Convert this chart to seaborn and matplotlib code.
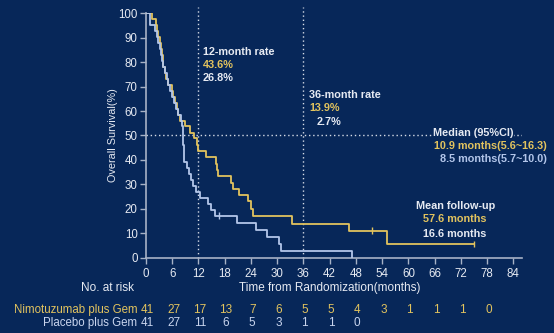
import matplotlib
matplotlib.use("Agg")
import matplotlib.pyplot as plt
import seaborn as sns
import pandas as pd

# Kaplan-Meier step data (months, overall survival %)
nimo_time = [0, 1.3, 2.4, 2.6, 2.8, 3.1, 3.4, 3.6, 3.8, 4.0, 4.3, 4.6, 5.0, 5.9, 6.2,
             6.6, 7.0, 7.4, 7.8, 9.0, 10.0, 10.9, 11.6, 11.9, 13.7, 16.1, 16.3, 16.5,
             19.4, 20.0, 21.2, 23.3, 23.9, 24.5, 33.4, 46.5, 55.1, 75.1]
nimo_surv = [100, 97.6, 95.1, 92.7, 90.2, 87.8, 85.4, 82.9, 80.5, 78.0, 75.6, 73.2, 70.7,
             68.3, 65.9, 63.4, 61.0, 58.5, 56.1, 53.7, 51.2, 48.8, 46.3, 43.6, 41.3, 38.2,
             35.9, 33.6, 30.5, 28.2, 25.8, 23.0, 20.1, 17.2, 13.9, 11.1, 5.6, 5.6]
plac_time = [0, 0.9, 2.1, 2.5, 2.8, 3.1, 3.4, 3.7, 4.0, 4.3, 4.7, 5.1, 5.5, 5.9, 6.3,
             6.8, 7.3, 8.0, 8.3, 8.4, 8.5, 8.55, 8.6, 8.65, 8.7, 9.3, 9.8, 10.4, 10.8,
             11.5, 12.3, 14.1, 14.8, 15.8, 20.7, 25.2, 27.7, 30.4, 30.9, 47.0]
plac_surv = [100, 95.1, 92.7, 90.2, 87.8, 85.4, 82.9, 80.5, 78.0, 75.6, 73.2, 70.7, 68.3,
             65.9, 63.4, 61.0, 58.5, 56.1, 53.7, 51.2, 48.8, 46.3, 43.9, 41.5, 39.0, 36.6,
             34.1, 31.7, 29.3, 26.8, 24.4, 22.0, 19.5, 17.1, 14.1, 11.3, 8.4, 5.6, 2.7, 0]

# Censoring marks
nimo_cens_time = [51.6, 75.1]
nimo_cens_surv = [11.1, 5.6]
plac_cens_time = [16.6]
plac_cens_surv = [17.1]

arms = ["Nimotuzumab plus Gem", "Placebo plus Gem"]
risk_times = [0, 6, 12, 18, 24, 30, 36, 42, 48, 54, 60, 66, 72, 78]
nimo_risk = [41, 27, 17, 13, 7, 6, 5, 5, 4, 3, 1, 1, 1, 0]
plac_risk = [41, 27, 11, 6, 5, 3, 1, 1, 0]

x_ticks = list(range(0, 85, 6))
y_ticks = list(range(0, 101, 10))

BG = "#072759"
GOLD = "#e2c35e"
BLUE = "#b3c6ea"
AXC = "#a7b2c6"
TXT = "#e6eaf2"

sns.set_theme(style="ticks", rc={
    "figure.facecolor": BG, "axes.facecolor": BG, "axes.edgecolor": AXC,
    "xtick.color": AXC, "ytick.color": AXC,
    "xtick.labelcolor": TXT, "ytick.labelcolor": TXT,
    "axes.labelcolor": TXT, "text.color": TXT,
})
plt.rcParams["font.family"] = ["Liberation Sans", "DejaVu Sans"]

df = pd.concat([
    pd.DataFrame({"time": nimo_time, "surv": nimo_surv, "arm": arms[0]}),
    pd.DataFrame({"time": plac_time, "surv": plac_surv, "arm": arms[1]}),
], ignore_index=True)
cens = pd.concat([
    pd.DataFrame({"time": nimo_cens_time, "surv": nimo_cens_surv, "arm": arms[0]}),
    pd.DataFrame({"time": plac_cens_time, "surv": plac_cens_surv, "arm": arms[1]}),
], ignore_index=True)
palette = {arms[0]: GOLD, arms[1]: BLUE}

fig = plt.figure(figsize=(5.54, 3.33), dpi=100)
ax = fig.add_axes([0.2635, 0.2261, 0.6782, 0.7342])

# Reference lines: 12- and 36-month landmarks and the median
for xv in (12, 36):
    ax.axvline(xv, ymin=0, ymax=1.025, color="#d5dbe6", ls=(0, (1, 2)), lw=1.0,
               clip_on=False, zorder=1)
ax.axhline(50, color="#d5dbe6", ls=(0, (1, 2)), lw=1.0, zorder=1)

sns.lineplot(data=df, x="time", y="surv", hue="arm", palette=palette,
             estimator=None, sort=False, drawstyle="steps-post", lw=1.3,
             legend=False, ax=ax, zorder=3)
sns.scatterplot(data=cens, x="time", y="surv", hue="arm", palette=palette,
                marker="|", s=25, linewidth=1.0, legend=False, ax=ax, zorder=4)

ax.set_xlim(0, 85.9)
ax.set_ylim(0, 100)
ax.set_xticks(x_ticks)
ax.set_yticks(y_ticks)
ax.tick_params(axis="x", length=4.5, width=1, pad=3, labelsize=8.3)
ax.tick_params(axis="y", length=4.5, width=1, pad=1.5, labelsize=8.3)
sns.despine(ax=ax)
for s in ("left", "bottom"):
    ax.spines[s].set_linewidth(1.2)

ax.set_xlabel("Time from Randomization(months)", fontsize=8.5)
ax.xaxis.set_label_coords(0.49, -0.124)
ax.xaxis.label.set_va("center")
ax.set_ylabel("Overall Survival(%)", fontsize=7.8)
ax.yaxis.set_label_coords(-0.088, 0.5)
ax.yaxis.label.set_va("center")

# Annotations
bold = dict(fontsize=7.8, fontweight="bold")
ax.text(13.0, 84.3, "12-month rate", color=TXT, va="center", ha="left", **bold)
ax.text(13.0, 79.0, "43.6%", color=GOLD, va="center", ha="left", **bold)
ax.text(13.0, 73.6, "26.8%", color=TXT, va="center", ha="left", **bold)

ax.text(37.3, 66.5, "36-month rate", color=TXT, va="center", ha="left", **bold)
ax.text(37.3, 61.1, "13.9%", color=GOLD, va="center", ha="left", **bold)
ax.text(38.9, 55.4, "2.7%", color=TXT, va="center", ha="left", **bold)

ax.text(65.6, 51.0, "Median (95%CI)", color=TXT, va="center", ha="left",
        bbox=dict(facecolor=BG, edgecolor="none", pad=0.6), zorder=5, **bold)
ax.text(91.6, 45.8, "10.9 months(5.6~16.3)", color=GOLD, va="center", ha="right", **bold)
ax.text(91.6, 40.4, "8.5 months(5.7~10.0)", color=BLUE, va="center", ha="right", **bold)

ax.text(70.7, 21.1, "Mean follow-up", color=TXT, va="center", ha="center", **bold)
ax.text(70.5, 15.7, "57.6 months", color=GOLD, va="center", ha="center", **bold)
ax.text(70.6, 9.7, "16.6 months", color=TXT, va="center", ha="center", **bold)

# Number-at-risk table
tr = ax.get_xaxis_transform()
ax.text(-8.7, -0.124, "No. at risk", transform=tr, ha="center", va="center",
        fontsize=8.5, color=TXT)
rows = [(arms[0], nimo_risk, GOLD, -0.214), (arms[1], plac_risk, "#c9d5ee", -0.268)]
for label, counts, col, yy in rows:
    ax.text(-2.0, yy, label, transform=tr, ha="right", va="center",
            fontsize=8.3, color=col)
    for t, n in zip(risk_times, counts):
        ax.text(t + 0.3, yy, str(n), transform=tr, ha="center", va="center",
                fontsize=8.5, color=col)

fig.savefig("out.png", dpi=100, facecolor=BG)
